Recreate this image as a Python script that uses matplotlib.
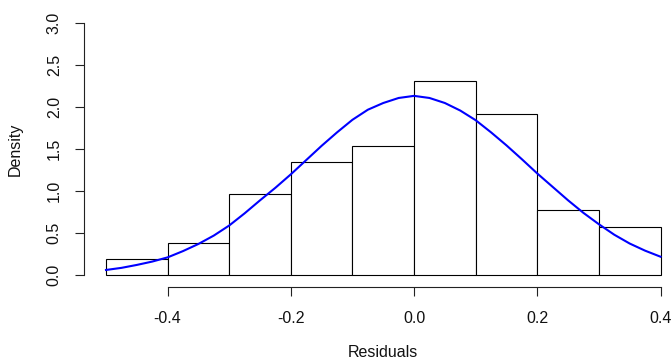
import numpy as np
import matplotlib.pyplot as plt

plt.rcParams['font.family'] = ['Liberation Sans', 'DejaVu Sans']

# histogram of residuals (density scale), bins of width 0.1
bin_edges = [-0.5, -0.4, -0.3, -0.2, -0.1, 0.0, 0.1, 0.2, 0.3, 0.4]
density = [0.192, 0.385, 0.962, 1.346, 1.538, 2.308, 1.923, 0.769, 0.577]

# fitted density curve
curve_x = [-0.5, -0.475, -0.45, -0.425, -0.4, -0.375, -0.35, -0.325, -0.3,
           -0.275, -0.25, -0.225, -0.2, -0.175, -0.15, -0.125, -0.1, -0.075,
           -0.05, -0.025, 0.0, 0.025, 0.05, 0.075, 0.1, 0.125, 0.15, 0.175,
           0.2, 0.225, 0.25, 0.275, 0.3, 0.325, 0.35, 0.375, 0.4]
curve_y = [0.06, 0.085, 0.12, 0.16, 0.21, 0.285, 0.37, 0.47, 0.59,
           0.735, 0.89, 1.04, 1.2, 1.37, 1.54, 1.70, 1.85, 1.97,
           2.05, 2.11, 2.135, 2.11, 2.05, 1.96, 1.845, 1.70, 1.545, 1.38,
           1.21, 1.05, 0.89, 0.74, 0.605, 0.48, 0.375, 0.29, 0.218]

x_ticks = [-0.4, -0.2, 0.0, 0.2, 0.4]
y_ticks = [0.0, 0.5, 1.0, 1.5, 2.0, 2.5, 3.0]

fig = plt.figure(figsize=(6.72, 3.59), dpi=100)
ax = fig.add_axes([106 / 672, 84 / 359, 554.5 / 672, 251.7 / 359])

lefts = np.array(bin_edges[:-1])
widths = np.diff(bin_edges)
ax.bar(lefts, density, width=widths, align='edge', color='white',
       edgecolor='black', linewidth=0.8, clip_on=False)
ax.plot(curve_x, curve_y, color='blue', linewidth=1.5, clip_on=False)

ax.set_xlim(-0.5, 0.4)
ax.set_ylim(0, 3.0)

for s in ['top', 'right']:
    ax.spines[s].set_visible(False)
ax.spines['left'].set_position(('outward', 15.6))
ax.spines['bottom'].set_position(('outward', 8.6))
ax.spines['left'].set_bounds(0, 3.0)
ax.spines['bottom'].set_bounds(-0.4, 0.4)
for s in ['left', 'bottom']:
    ax.spines[s].set_linewidth(0.8)
    ax.spines[s].set_color('#222222')

ax.set_xticks(x_ticks)
ax.set_xticklabels([f'{v:.1f}' for v in x_ticks])
ax.set_yticks(y_ticks)
ax.set_yticklabels([f'{v:.1f}' for v in y_ticks], rotation=90, va='center')
ax.tick_params(axis='both', length=6.7, width=0.8, color='#222222',
               labelsize=11.5, labelcolor='#111111')
ax.tick_params(axis='x', pad=10.5)
ax.tick_params(axis='y', pad=9.5)

ax.set_xlabel('Residuals', fontsize=11.5, color='#111111')
ax.xaxis.set_label_coords(0.5, -0.306)
ax.xaxis.label.set_va('center')
ax.set_ylabel('Density', fontsize=11.5, color='#111111')
ax.yaxis.set_label_coords(-0.164, 0.5)
ax.yaxis.label.set_va('center')

fig.savefig('out.png', dpi=100)
